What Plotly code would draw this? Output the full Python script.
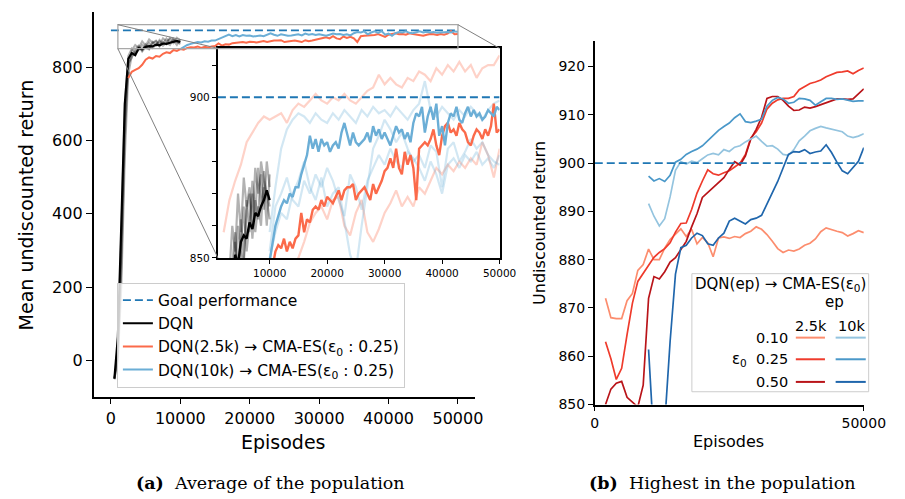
import plotly.graph_objects as go

# ---------------- data ----------------
GOAL = 900
EPISODE_LIMITS = [0, 50000]

# (a) average of the population
DQN_START, DQN_STEP = 500, 500
DQN_MEAN = [-48, 65, 375, 700, 822, 838, 832, 851, 848, 855, 857, 856, 861, 859, 864, 863, 866, 868, 871, 868]
DQN_RUN_1 = [-50, 20, 300, 650, 800, 845, 860, 852, 870, 858, 875, 866, 872, 860, 878, 870, 876, 865, 880, 872]
DQN_RUN_2 = [-50, 0, 200, 550, 780, 830, 840, 855, 845, 862, 850, 868, 858, 874, 864, 878, 866, 872, 860, 876]
DQN_RUN_3 = [-50, 40, 350, 700, 830, 850, 838, 846, 860, 852, 848, 865, 870, 856, 868, 862, 880, 874, 870, 866]
DQN_RUN_4 = [-50, 10, 250, 600, 810, 825, 848, 858, 842, 855, 866, 852, 861, 870, 858, 866, 860, 877, 868, 862]

AVG_RED_START, AVG_RED_STEP = 2500, 500
AVG_RED_025 = [770, 787, 792, 797, 806, 820, 826, 823, 830, 828,
               836, 840, 838, 846, 844, 849, 847, 852, 854, 853,
               856, 852, 855, 853, 856, 857, 864, 858, 862, 861,
               865, 866, 865, 868, 866, 869, 868, 867, 869, 871,
               868, 871, 872, 872, 873, 868, 870, 871, 872, 870,
               868, 873, 870, 872, 874, 877, 878, 881, 878, 884,
               878, 876, 883, 879, 882, 878, 868, 884, 885, 886,
               885, 887, 890, 885, 882, 888, 891, 892, 889, 890,
               888, 892, 890, 889, 886, 885, 888, 890, 889, 887,
               890, 888, 891, 898, 889, 890]

AVG_BLUE_START, AVG_BLUE_STEP = 10000, 500
AVG_BLUE_025 = [849, 855, 860, 863, 866, 868, 867, 870, 869, 872,
                872, 876, 879, 882, 888, 884, 887, 883, 887, 885,
                886, 883, 885, 886, 884, 889, 892, 888, 885, 889,
                886, 885, 886, 887, 889, 886, 891, 888, 890, 887,
                889, 887, 885, 888, 891, 889, 890, 887, 889, 886,
                892, 895, 894, 897, 889, 894, 897, 893, 898, 888,
                891, 885, 892, 895, 894, 897, 893, 892, 895, 897,
                894, 896, 894, 895, 893, 894, 896, 895, 894, 897,
                896]

FAINT_RED_START, FAINT_BLUE_START, FAINT_STEP = 2000, 10000, 1000
FAINT_RED_A = [858, 868, 874, 879, 886, 889, 892, 894, 893, 894,
               895, 892, 896, 898, 897, 899, 901, 899, 898, 900,
               899, 901, 899, 898, 900, 902, 903, 907, 904, 906,
               904, 903, 906, 905, 908, 907, 905, 909, 907, 910,
               908, 911, 908, 910, 906, 909, 910, 910, 913]
FAINT_RED_B = [760, 778, 790, 800, 808, 815, 822, 828, 833, 838,
               842, 845, 848, 850, 855, 861, 864, 866, 862, 868,
               869, 860, 857, 864, 868, 858, 855, 859, 864, 867,
               871, 866, 869, 866, 872, 870, 874, 878, 876, 879,
               877, 880, 878, 881, 879, 886, 882, 875, 884]
FAINT_BLUE_A = [858, 872, 884, 890, 893, 895, 894, 892, 895, 893,
                892, 895, 893, 896, 894, 892, 896, 894, 897, 895,
                896, 894, 897, 895, 893, 896, 898, 905, 896, 894,
                897, 895, 893, 896, 894, 897, 895, 893, 896, 898,
                899]
FAINT_BLUE_B = [852, 866, 870, 875, 868, 866, 874, 870, 876, 872,
                878, 874, 868, 863, 876, 872, 865, 874, 878, 882,
                879, 884, 880, 878, 883, 881, 878, 874, 880, 876,
                870, 879, 881, 878, 882, 880, 883, 879, 881, 878,
                882]
FAINT_BLUE_C = [850, 858, 864, 862, 870, 874, 880, 872, 868, 875,
                866, 870, 872, 862, 851, 846, 860, 872, 884, 888,
                893, 890, 886, 889, 884, 880, 882, 878, 885, 883,
                872, 884, 886, 880, 883, 887, 884, 886, 882, 880,
                879]

# (b) highest in the population
BEST_RED_START, BEST_BLUE_START, BEST_STEP = 2000, 10000, 1000
BEST_2_5K_010 = [872.0, 868.0, 867.8, 867.8, 871.5, 873.0, 877.8, 879.0, 882.2, 880.0,
                 880.0, 882.4, 884.2, 885.3, 886.4, 884.8, 886.3, 883.3, 884.6, 883.5,
                 880.6, 884.5, 884.7, 884.4, 884.8, 884.6, 885.4, 885.9, 886.8, 886.3,
                 885.2, 883.8, 882.3, 881.5, 882.0, 881.8, 882.2, 883.0, 883.4, 884.3,
                 885.8, 886.6, 886.2, 885.9, 885.6, 884.9, 885.4, 886.0, 885.6]
BEST_2_5K_025 = [863.0, 859.5, 855.2, 857.5, 864.5, 871.0, 875.5, 877.2, 879.0, 880.5,
                 881.5, 882.3, 883.5, 885.7, 887.5, 887.6, 890.4, 893.8, 896.3, 898.6,
                 897.8, 897.5, 898.0, 898.4, 899.2, 900.0, 901.8, 905.2, 906.5, 908.3,
                 911.2, 912.4, 913.1, 913.4, 913.4, 913.8, 915.2, 915.8, 916.5, 916.8,
                 917.2, 917.9, 918.3, 918.8, 918.9, 919.1, 918.5, 919.2, 919.7]
BEST_2_5K_050 = [850.0, 853.2, 854.4, 854.8, 851.5, 850.5, 849.5, 854.0, 872.0, 876.5,
                 876.0, 877.5, 879.5, 880.4, 882.0, 883.8, 886.8, 889.5, 892.9, 893.9,
                 895.0, 895.8, 897.0, 898.7, 900.3, 899.6, 901.5, 905.0, 907.0, 909.5,
                 913.4, 913.8, 913.8, 913.0, 911.8, 910.9, 911.0, 911.6, 911.4, 911.7,
                 912.1, 912.5, 913.0, 913.3, 913.3, 913.2, 913.3, 914.3, 915.4]
BEST_10K_010 = [891.6, 889.0, 887.0, 888.5, 893.0, 898.5, 900.3, 899.8, 900.4, 900.1,
                900.9, 901.7, 902.0, 901.7, 902.8, 902.4, 903.3, 903.6, 904.4, 905.0,
                905.6, 904.5, 903.5, 903.6, 902.9, 901.8, 901.6, 902.8, 904.6, 905.6,
                906.7, 907.2, 907.6, 907.3, 907.0, 906.8, 906.5, 905.6, 905.3, 905.6,
                906.1]
BEST_10K_025 = [897.3, 896.3, 896.8, 896.2, 897.5, 900.2, 900.8, 901.8, 902.4, 902.9,
                903.6, 904.7, 905.6, 906.8, 907.6, 908.3, 909.4, 910.2, 908.6, 908.4,
                908.7, 909.1, 911.8, 913.0, 913.6, 913.3, 912.4, 912.6, 913.4, 913.3,
                913.0, 912.0, 912.7, 913.4, 913.4, 913.2, 913.3, 913.0, 912.8, 912.9,
                912.9]
BEST_10K_050 = [861.4, 842.0, 840.0, 846.0, 863.0, 877.0, 882.5, 883.0, 884.5, 885.5,
                885.0, 883.3, 883.0, 884.5, 885.5, 888.0, 888.6, 888.0, 887.4, 888.3,
                888.6, 889.2, 891.5, 893.8, 896.2, 899.0, 901.8, 902.4, 902.3, 902.8,
                902.0, 902.3, 902.5, 903.8, 902.2, 900.2, 898.4, 897.8, 899.2, 900.4,
                903.2]

EPS_LABELS = ["0.10", "0.25", "0.50"]
EP_LABELS = ["2.5k", "10k"]

MAIN_XTICKS = [0, 10000, 20000, 30000, 40000, 50000]
MAIN_YTICKS = [0, 200, 400, 600, 800]
INSET_XTICKS = [10000, 20000, 30000, 40000, 50000]
INSET_YTICKS = [850, 900]
RIGHT_XTICKS = [0, 50000]
RIGHT_YTICKS = [850, 860, 870, 880, 890, 900, 910, 920]

# ---------------- styling ----------------
FONT = "DejaVu Sans"
C_GOAL = "#1f77b4"
C_RED = "#fb6a4a"
C_BLUE = "#6baed6"
C_FAINT_RED = "rgba(251,106,74,0.3)"
C_FAINT_BLUE = "rgba(107,174,214,0.3)"
C_GRAY = "rgba(0,0,0,0.3)"
RED_SHADES = ["#fc8d6e", "#ef3b2c", "#b91419"]
BLUE_SHADES = ["#94c4df", "#4a98c9", "#1f66ac"]

W, H = 905, 499


def fx(p):
    return p / W


def fy(p):
    return 1 - p / H


def grid(start, step, n):
    return [start + i * step for i in range(n)]


MAIN_DX = [fx(84), fx(477)]
MAIN_DY = [fy(395), fy(4)]
MAIN_XR = [-2500, 52500]
MAIN_YR = [-98, 950]
INSET_DX = [fx(212), fx(502)]
INSET_DY = [fy(254), fy(41)]
INSET_XR = [1000, 50000]
INSET_YR = [850, 915.2]
RIGHT_DX = [fx(600), fx(877)]
RIGHT_DY = [fy(403), fy(34)]
RIGHT_XR = [0, 50000]
RIGHT_YR = [850, 925.2]

fig = go.Figure()


def line(x, y, color, width, xa, ya, name=None, show=False, dash=None, group=None):
    fig.add_trace(go.Scatter(
        x=x, y=y, mode="lines", name=name, showlegend=show,
        legendgroup=group, hoverinfo="skip",
        line=dict(color=color, width=width, dash=dash),
        xaxis=xa, yaxis=ya))


DASH = "8px,4px"

# ---- main axes (a)
line(EPISODE_LIMITS, [GOAL, GOAL], C_GOAL, 1.8, "x", "y", "Goal performance", True, DASH, "g")
for run in (DQN_RUN_1, DQN_RUN_2, DQN_RUN_3, DQN_RUN_4):
    line(grid(DQN_START, DQN_STEP, len(run)), run, C_GRAY, 2, "x", "y")
line(grid(DQN_START, DQN_STEP, len(DQN_MEAN)), DQN_MEAN, "black", 2.2, "x", "y", "DQN", True, None, "d")
line(grid(AVG_RED_START, AVG_RED_STEP, len(AVG_RED_025)), AVG_RED_025, C_RED, 2, "x", "y",
     "DQN(2.5k) → CMA-ES(ε<sub>0</sub> : 0.25)", True, None, "r")
line(grid(AVG_BLUE_START, AVG_BLUE_STEP, len(AVG_BLUE_025)), AVG_BLUE_025, C_BLUE, 2, "x", "y",
     "DQN(10k) → CMA-ES(ε<sub>0</sub> : 0.25)", True, None, "b")

# ---- right axes (b)
for vals, col in zip((BEST_2_5K_010, BEST_2_5K_025, BEST_2_5K_050), RED_SHADES):
    line(grid(BEST_RED_START, BEST_STEP, len(vals)), vals, col, 1.7, "x2", "y2")
for vals, col in zip((BEST_10K_010, BEST_10K_025, BEST_10K_050), BLUE_SHADES):
    line(grid(BEST_BLUE_START, BEST_STEP, len(vals)), vals, col, 1.7, "x2", "y2")
line(RIGHT_XR, [GOAL, GOAL], C_GOAL, 1.6, "x2", "y2", dash=DASH)

# ---- inset
for vals in (FAINT_RED_A, FAINT_RED_B):
    line(grid(FAINT_RED_START, FAINT_STEP, len(vals)), vals, C_FAINT_RED, 2.2, "x3", "y3")
for vals in (FAINT_BLUE_A, FAINT_BLUE_B, FAINT_BLUE_C):
    line(grid(FAINT_BLUE_START, FAINT_STEP, len(vals)), vals, C_FAINT_BLUE, 2.2, "x3", "y3")
for run in (DQN_RUN_1, DQN_RUN_2, DQN_RUN_3, DQN_RUN_4):
    line(grid(DQN_START, DQN_STEP, len(run)), run, C_GRAY, 2.2, "x3", "y3")
line(grid(DQN_START, DQN_STEP, len(DQN_MEAN)), DQN_MEAN, "black", 2.4, "x3", "y3")
line(grid(AVG_RED_START, AVG_RED_STEP, len(AVG_RED_025)), AVG_RED_025, C_RED, 2.4, "x3", "y3")
line(grid(AVG_BLUE_START, AVG_BLUE_STEP, len(AVG_BLUE_025)), AVG_BLUE_025, C_BLUE, 2.4, "x3", "y3")
line(INSET_XR, [GOAL, GOAL], C_GOAL, 2, "x3", "y3", dash=DASH)

# ---- axes
def axis(domain, rng, ticks, anchor, size, ticklen=6, mirror=False, width=1.6, **kw):
    return dict(domain=domain, range=rng, tickvals=ticks, anchor=anchor, tickformat="d",
                showline=True, linecolor="black", linewidth=width, mirror=mirror,
                ticks="outside", ticklen=ticklen, tickwidth=1.3, tickcolor="black",
                showgrid=False, zeroline=False, tickfont=dict(size=size, color="black", family=FONT),
                **kw)


fig.update_layout(
    width=W, height=H, margin=dict(l=0, r=0, t=0, b=0),
    paper_bgcolor="white", plot_bgcolor="white",
    font=dict(family=FONT, color="black"),
    xaxis=axis(MAIN_DX, MAIN_XR, MAIN_XTICKS, "y", 16),
    yaxis=axis(MAIN_DY, MAIN_YR, MAIN_YTICKS, "x", 16),
    xaxis2=axis(RIGHT_DX, RIGHT_XR, RIGHT_XTICKS, "y2", 14, ticklen=5),
    yaxis2=axis(RIGHT_DY, RIGHT_YR, RIGHT_YTICKS, "x2", 14, ticklen=5),
    xaxis3=axis(INSET_DX, INSET_XR, INSET_XTICKS, "y3", 10.5, ticklen=4, mirror=True, width=2),
    yaxis3=axis(INSET_DY, INSET_YR, INSET_YTICKS, "x3", 10.5, ticklen=4, mirror=True, width=2,
                minor=dict(tick0=850, dtick=10, ticks="outside", ticklen=4, tickcolor="black", tickwidth=1.2)),
    legend=dict(x=fx(108), y=fy(279), xanchor="left", yanchor="top",
                bgcolor="rgba(255,255,255,0.8)", bordercolor="#cccccc", borderwidth=1,
                font=dict(size=15.5, family=FONT, color="black"),
                traceorder="grouped", tracegroupgap=0, itemwidth=30),
)


def to_paper(v, rng, dom):
    return dom[0] + (v - rng[0]) / (rng[1] - rng[0]) * (dom[1] - dom[0])


shapes = []
# zoom indicator rectangle on the main axes
shapes.append(dict(type="rect", xref="x", yref="y", x0=INSET_XR[0], x1=INSET_XR[1],
                   y0=INSET_YR[0], y1=INSET_YR[1], line=dict(color="#a8a8a8", width=1.3)))
# connectors
for (rx, ry, ix, iy) in [(INSET_XR[0], INSET_YR[1], INSET_DX[0], INSET_DY[1]),
                         (INSET_XR[0], INSET_YR[0], INSET_DX[0], INSET_DY[0]),
                         (INSET_XR[1], INSET_YR[1], INSET_DX[1], INSET_DY[1])]:
    shapes.append(dict(type="line", xref="paper", yref="paper",
                       x0=to_paper(rx, MAIN_XR, MAIN_DX), y0=to_paper(ry, MAIN_YR, MAIN_DY),
                       x1=ix, y1=iy, line=dict(color="#808080", width=1)))

# custom legend for (b)
shapes.append(dict(type="rect", xref="paper", yref="paper", x0=fx(700), x1=fx(882),
                   y0=fy(390), y1=fy(270), fillcolor="rgba(255,255,255,0.85)",
                   line=dict(color="#cccccc", width=1), layer="above"))
LEG_FONT = dict(size=14.5, family=FONT, color="black")
annotations = []
row_y = [335, 357, 380]
col_x = [(807, 837), (848, 879)]
for i, lab in enumerate(EPS_LABELS):
    annotations.append(dict(x=fx(801), y=fy(row_y[i]), xref="paper", yref="paper", text=lab,
                            showarrow=False, xanchor="right", yanchor="middle", font=LEG_FONT))
    for j, shades in enumerate((RED_SHADES, BLUE_SHADES)):
        shapes.append(dict(type="line", xref="paper", yref="paper",
                           x0=fx(col_x[j][0]), x1=fx(col_x[j][1]), y0=fy(row_y[i]), y1=fy(row_y[i]),
                           line=dict(color=shades[i], width=2), layer="above"))
for j, lab in enumerate(EP_LABELS):
    annotations.append(dict(x=fx((col_x[j][0] + col_x[j][1]) / 2 + 1), y=fy(323), xref="paper", yref="paper",
                            text=lab, showarrow=False, xanchor="center", yanchor="middle", font=LEG_FONT))
annotations += [
    dict(x=fx(791), y=fy(281), text="DQN(ep) → CMA-ES(ε<sub>0</sub>)", xanchor="center"),
    dict(x=fx(847), y=fy(299), text="ep", xanchor="center"),
    dict(x=fx(749), y=fy(357), text="ε<sub>0</sub>", xanchor="center"),
]
for a in annotations[-3:]:
    a.update(xref="paper", yref="paper", showarrow=False, yanchor="middle",
             font=dict(size=15, family=FONT, color="black"))

# axis titles and captions
annotations += [
    dict(x=fx(14), y=fy(200), text="Mean undiscounted return", textangle=-90,
         font=dict(size=19, family=FONT, color="black")),
    dict(x=fx(280), y=fy(441), text="Episodes", font=dict(size=19, family=FONT, color="black")),
    dict(x=fx(543), y=fy(218), text="Undiscounted return", textangle=-90,
         font=dict(size=16, family=FONT, color="black")),
    dict(x=fx(738), y=fy(441), text="Episodes", font=dict(size=16, family=FONT, color="black")),
    dict(x=fx(266), y=fy(483), text="<b>(a)</b>  Average of the population",
         font=dict(size=17.5, family="DejaVu Serif", color="black")),
    dict(x=fx(732), y=fy(483), text="<b>(b)</b>  Highest in the population",
         font=dict(size=17.5, family="DejaVu Serif", color="black")),
]
for a in annotations[-6:]:
    a.update(xref="paper", yref="paper", showarrow=False, xanchor="center", yanchor="middle")

fig.update_layout(shapes=shapes, annotations=annotations)
fig.write_html("out.html")
